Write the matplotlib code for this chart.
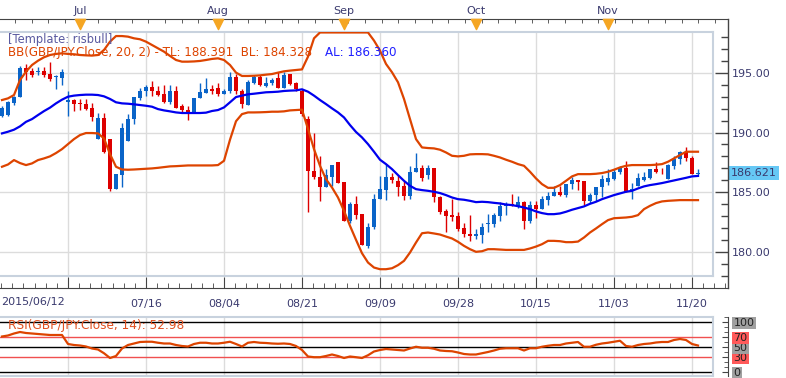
import matplotlib
matplotlib.use("Agg")
import matplotlib.pyplot as plt
import matplotlib.ticker as ticker
from matplotlib.lines import Line2D
import numpy as np
import pandas as pd

# trading days shown on the chart
dates = pd.bdate_range("2015-06-12", "2015-11-23")

opens = [191.4, 191.5, 192.45, 193.0, 195.4, 195.2, 195.1, 195.2, 194.95, 194.65,
         194.6, 192.6, 192.75, 192.5, 192.4, 192.05, 189.45, 191.2, 189.45, 185.3,
         186.45, 189.3, 191.1, 192.9, 193.45, 193.8, 193.5, 193.2, 192.6, 193.5,
         192.2, 191.9, 191.65, 192.9, 193.3, 193.65, 193.7, 193.2, 193.5, 194.7,
         193.5, 192.3, 194.2, 194.7, 193.9, 194.15, 194.55, 193.7, 194.9, 194.15,
         193.5, 191.1, 186.8, 186.3, 185.4, 186.3, 187.55, 185.85, 182.6, 184.0,
         183.15, 180.5, 182.05, 184.4, 185.2, 186.3, 185.95, 185.5, 184.7, 186.7,
         187.0, 186.4, 187.0, 184.55, 183.45, 183.05, 183.0, 181.95, 181.45, 181.35,
         181.4, 182.35, 182.35, 183.0, 183.8, 184.0, 183.85, 184.15, 182.6, 183.9,
         183.6, 184.3, 184.65, 185.05, 184.75, 185.7, 186.0, 185.9, 184.25, 184.75,
         185.4, 185.85, 186.1, 186.65, 187.0, 185.1, 185.5, 186.05, 186.15, 186.95,
         186.8, 186.1, 187.2, 187.75, 188.35, 187.9, 186.5]
highs = [192.2, 192.65, 193.05, 195.55, 195.75, 195.4, 195.5, 195.5, 195.9, 194.8,
         195.3, 193.5, 192.8, 192.8, 192.8, 192.5, 191.6, 191.6, 189.45, 186.5,
         190.8, 191.55, 192.95, 193.7, 193.95, 194.35, 193.9, 193.95, 193.95, 193.9,
         192.4, 192.2, 192.9, 194.15, 194.55, 194.0, 194.15, 193.65, 195.1, 194.9,
         193.65, 194.45, 194.8, 194.8, 194.7, 194.55, 195.05, 195.05, 194.9, 194.25,
         193.65, 191.4, 189.95, 188.05, 186.9, 187.25, 187.55, 185.85, 184.2, 184.7,
         183.15, 182.4, 184.85, 186.35, 187.35, 186.6, 186.45, 185.95, 187.2, 188.3,
         187.25, 187.25, 187.0, 184.65, 183.6, 184.4, 183.3, 182.45, 183.05, 181.9,
         182.45, 183.15, 183.25, 184.15, 184.2, 184.85, 184.65, 184.25, 184.25, 184.25,
         184.7, 185.05, 185.55, 185.5, 185.7, 186.25, 186.0, 185.9, 184.95, 185.45,
         186.45, 186.9, 186.9, 187.2, 187.65, 185.75, 186.6, 186.7, 186.95, 187.5,
         187.0, 187.35, 188.0, 188.45, 188.75, 188.05, 186.9]
lows = [191.3, 191.4, 192.35, 193.0, 194.45, 194.65, 194.8, 194.65, 194.3, 193.65,
        193.95, 191.4, 191.85, 191.9, 191.9, 191.0, 189.45, 188.3, 185.1, 185.25,
        185.4, 189.3, 190.7, 192.7, 193.1, 193.05, 193.1, 192.5, 192.4, 192.1,
        191.7, 191.05, 191.6, 192.9, 193.3, 193.25, 193.1, 193.2, 193.3, 193.2,
        192.05, 192.3, 194.05, 193.9, 193.8, 193.95, 193.7, 193.7, 194.0, 193.45,
        191.4, 183.3, 186.1, 184.25, 185.4, 185.55, 185.8, 182.6, 182.45, 182.75,
        180.55, 180.35, 181.9, 184.4, 184.35, 185.75, 184.7, 184.3, 184.4, 186.7,
        185.95, 186.1, 184.15, 183.15, 181.65, 182.6, 181.75, 181.25, 180.9, 181.1,
        180.7, 181.65, 182.05, 182.6, 183.05, 183.85, 183.65, 181.9, 182.45, 182.85,
        183.55, 183.9, 184.65, 184.7, 184.55, 185.3, 185.2, 183.95, 184.1, 184.25,
        184.55, 185.6, 186.05, 186.5, 185.05, 184.4, 185.5, 185.95, 186.1, 186.6,
        186.5, 186.1, 186.95, 187.35, 187.65, 186.5, 186.45]
closes = [192.1, 192.6, 193.0, 195.4, 195.1, 194.8, 195.2, 194.85, 194.5, 194.7,
          195.1, 192.75, 192.4, 192.4, 192.0, 191.3, 191.2, 188.35, 185.3, 186.5,
          190.4, 191.1, 192.95, 193.5, 193.8, 193.5, 193.15, 192.6, 193.5, 192.1,
          191.9, 191.7, 192.9, 193.4, 193.65, 193.45, 193.25, 193.5, 194.7, 193.5,
          192.4, 194.25, 194.7, 193.95, 194.2, 194.45, 193.7, 194.85, 194.1, 193.65,
          191.55, 186.8, 186.25, 185.4, 186.45, 187.25, 185.8, 182.6, 184.0, 183.05,
          180.55, 182.1, 184.45, 185.25, 186.3, 186.05, 185.4, 184.7, 186.7, 187.0,
          186.15, 187.0, 184.55, 183.3, 183.0, 182.9, 181.9, 181.45, 181.3, 181.45,
          182.05, 182.45, 183.05, 183.8, 184.0, 183.85, 184.15, 182.6, 183.9, 183.6,
          184.4, 184.7, 185.05, 184.75, 185.7, 186.0, 185.85, 184.25, 184.75, 185.45,
          186.1, 186.15, 186.7, 187.0, 185.05, 185.3, 186.15, 186.25, 186.95, 186.7,
          186.75, 187.25, 187.8, 188.35, 187.85, 186.5, 186.621]

bb_top = [192.73, 192.87, 193.15, 194.41, 195.11, 195.67, 196.03, 196.32, 196.51, 196.6,
          196.65, 196.6, 196.57, 196.51, 196.48, 196.46, 196.51, 196.93, 197.63, 198.1,
          198.1, 198.05, 197.91, 197.83, 197.63, 197.35, 197.07, 196.79, 196.43, 196.09,
          195.95, 195.95, 195.97, 196.01, 196.09, 196.18, 196.23, 196.09, 195.67, 195.03,
          194.75, 194.75, 194.77, 194.8, 194.86, 194.91, 195.03, 195.14, 195.2, 195.25,
          195.3, 196.37, 197.91, 198.4, 198.4, 198.4, 198.4, 198.4, 198.4, 198.4,
          198.4, 198.4, 197.72, 196.88, 195.76, 195.06, 194.22, 192.82, 191.13, 189.45,
          188.75, 188.7, 188.67, 188.56, 188.33, 188.05, 188.0, 188.05, 188.17, 188.19,
          188.19, 188.17, 188.05, 187.91, 187.72, 187.55, 187.35, 187.21, 186.71, 186.15,
          185.67, 185.36, 185.36, 185.59, 185.95, 186.32, 186.51, 186.51, 186.51, 186.54,
          186.6, 186.71, 186.88, 187.07, 187.21, 187.27, 187.27, 187.27, 187.27, 187.3,
          187.35, 187.55, 187.83, 188.11, 188.39, 188.391, 188.391]
bb_mid = [189.93, 190.07, 190.24, 190.52, 190.9, 191.13, 191.47, 191.8, 192.09, 192.45,
          192.76, 193.01, 193.1, 193.15, 193.18, 193.18, 193.15, 193.04, 192.82, 192.54,
          192.45, 192.42, 192.37, 192.31, 192.25, 192.17, 191.97, 191.86, 191.78, 191.69,
          191.64, 191.64, 191.64, 191.64, 191.67, 191.81, 191.89, 192.11, 192.54, 192.98,
          193.1, 193.21, 193.26, 193.32, 193.38, 193.4, 193.43, 193.49, 193.52, 193.54,
          193.63, 193.43, 193.1, 192.73, 192.39, 192.03, 191.69, 191.27, 190.63, 190.05,
          189.59, 189.03, 188.39, 187.72, 187.35, 186.93, 186.43, 185.95, 185.53, 185.25,
          185.17, 185.11, 185.03, 184.92, 184.75, 184.55, 184.41, 184.36, 184.27, 184.16,
          184.19, 184.16, 184.1, 184.05, 183.96, 183.91, 183.82, 183.71, 183.57, 183.38,
          183.24, 183.15, 183.15, 183.21, 183.35, 183.52, 183.66, 183.8, 184.02, 184.19,
          184.41, 184.58, 184.75, 184.89, 185.03, 185.11, 185.31, 185.48, 185.59, 185.67,
          185.76, 185.87, 185.98, 186.09, 186.2, 186.32, 186.36]
bb_bot = [187.13, 187.32, 187.69, 187.44, 187.27, 187.41, 187.69, 187.83, 188.0, 188.28,
          188.61, 189.03, 189.45, 189.79, 189.96, 189.96, 189.93, 189.51, 188.19, 187.13,
          186.9, 186.88, 186.9, 186.93, 186.96, 186.99, 187.04, 187.1, 187.16, 187.18,
          187.21, 187.24, 187.24, 187.24, 187.24, 187.24, 187.27, 187.63, 189.4, 190.95,
          191.55, 191.69, 191.69, 191.7, 191.72, 191.75, 191.75, 191.78, 191.86, 191.89,
          191.92, 190.3, 188.61, 187.21, 186.09, 185.39, 184.55, 183.43, 182.17, 181.0,
          179.87, 179.09, 178.67, 178.53, 178.53, 178.61, 178.87, 179.23, 179.93, 180.77,
          181.55, 181.61, 181.53, 181.44, 181.27, 181.11, 180.83, 180.49, 180.21, 179.99,
          180.04, 180.21, 180.21, 180.18, 180.15, 180.15, 180.15, 180.15, 180.27, 180.43,
          180.63, 180.91, 180.91, 180.88, 180.8, 180.8, 180.85, 181.19, 181.61, 181.95,
          182.31, 182.65, 182.81, 182.84, 182.87, 182.93, 183.07, 183.57, 183.85, 184.08,
          184.22, 184.27, 184.3, 184.33, 184.33, 184.328, 184.328]

rsi = [71, 73, 77, 80, 78, 77, 76, 75, 74, 74,
       74, 56, 54, 53, 51, 47, 45, 37.5, 28, 32,
       47, 54, 57, 60, 60.5, 60.5, 58.5, 57, 57, 54,
       52, 51, 56, 58.5, 58.5, 57, 57, 58.5, 60.5, 56,
       51, 58.5, 60, 58.5, 58, 57, 56.5, 57, 56, 52,
       44, 31, 29.6, 29.6, 32, 35, 32, 28, 31, 29.6,
       28, 33.5, 41, 44, 46, 45, 44, 43, 47, 50.5,
       48.5, 48.5, 46.5, 43, 42, 41.5, 39, 36, 35, 35,
       37.5, 40, 43, 46.5, 47.5, 47.5, 47.5, 43, 47.5, 47.5,
       50.5, 52.5, 54, 54, 57, 58.5, 60, 50.5, 50.5, 54.5,
       57, 58.5, 60.5, 62.5, 52, 50.5, 54, 56, 57, 59,
       60, 60, 64, 66, 64, 56, 52.98]

rsi_levels = [0, 30, 50, 70, 100]
price_ticks = [180, 185, 190, 195]

UP = "#0a64c8"
DOWN = "#dd0000"
BAND = "#dd4400"
MID = "#0000ee"
GRID = "#dcdcdc"
FRAME = "#c8d2de"
TXT = "#3a3a6e"

W, H = 786, 378

def box(x0, y0, x1, y1):
    # pixel box -> figure fraction rect
    return [x0 / W, 1 - y1 / H, (x1 - x0) / W, (y1 - y0) / H]

fig = plt.figure(figsize=(W / 100, H / 100), dpi=100)
plt.rcParams['font.family'] = ['DejaVu Sans']

n = len(dates)
idx = np.arange(n)
o = np.array(opens); c = np.array(closes)
hi = np.array(highs); lo = np.array(lows)
grid_idx = np.arange(11, n, 13)

# ---- main price panel ----
ax = fig.add_axes(box(0, 32, 713, 276))
ax.set_xlim(-1 / 3, 118.5)
ax.set_ylim(177.96, 198.44)
for g in grid_idx:
    ax.axvline(g, color=GRID, lw=1.0, zorder=0)
for p in price_ticks:
    ax.axhline(p, color=GRID, lw=1.0, zorder=0)

up = c >= o
col = np.where(up, UP, DOWN)
ax.vlines(idx, lo, hi, colors=col, lw=1.0, zorder=2)
body_h = np.maximum(np.abs(c - o), 0.06)
ax.bar(idx, body_h, bottom=np.minimum(o, c), width=0.68, color=col, zorder=3)

ax.plot(idx, bb_top, color=BAND, lw=1.6, zorder=4)
ax.plot(idx, bb_bot, color=BAND, lw=1.6, zorder=4)
ax.plot(idx, bb_mid, color=MID, lw=1.6, zorder=4)

for s in ["top", "right", "bottom"]:
    ax.spines[s].set_color(FRAME)
    ax.spines[s].set_linewidth(1.5)
ax.spines["left"].set_visible(False)

ax.text(0.011, 0.971, "[Template: risbull]", transform=ax.transAxes,
        fontsize=8.3, color="#5a5aa0", va="center", ha="left", zorder=6)
ax.text(0.011, 0.918, "BB(GBP/JPY.Close, 20, 2) - TL: %.3f  BL: %.3f" % (bb_top[-1], bb_bot[-1]),
        transform=ax.transAxes, fontsize=8.6, color=BAND, va="center", ha="left", zorder=6)
ax.text(325 / 713, 0.918, "AL: %.3f" % bb_mid[-1], transform=ax.transAxes,
        fontsize=8.6, color="#2020ff", va="center", ha="left", zorder=6)

# ---- right price axis ----
ax_r = fig.add_axes(box(713, 32, 728, 276), sharey=ax)
ax_r.set_xlim(0, 1)
for s in ["top", "left", "bottom", "right"]:
    ax_r.spines[s].set_visible(False)
ax_r.patch.set_alpha(0)
ax_r.set_xticks([])
ax_r.yaxis.tick_right()
ax_r.set_yticks(price_ticks)
ax_r.set_yticklabels(["%.2f" % p for p in price_ticks])
ax_r.yaxis.set_minor_locator(ticker.MultipleLocator(1))
ax_r.tick_params(axis="y", which="major", direction="in", length=9.5, width=1,
                 color="#444444", labelsize=8, labelcolor=TXT, pad=3)
ax_r.tick_params(axis="y", which="minor", direction="in", length=5, width=1, color="#444444")
ax_r.text(1.2, closes[-1], "%.3f" % closes[-1], transform=ax_r.get_yaxis_transform(),
          fontsize=8, color=TXT, va="center", ha="left",
          bbox=dict(boxstyle="square,pad=0.2", fc="#66c8f5", ec="none"))

# main panel keeps no ticks of its own
ax.set_xticks([])
ax.tick_params(axis="y", which="both", left=False, right=False, labelleft=False, labelright=False)

# ---- month strip on top ----
ax_top = fig.add_axes(box(0, 19, 728, 23))
ax_top.set_xlim(-1 / 3, 121)
ax_top.set_ylim(0, 1)
for s in ["left", "right", "bottom"]:
    ax_top.spines[s].set_visible(False)
ax_top.spines["top"].set_color("#444444")
ax_top.patch.set_alpha(0)
ax_top.set_yticks([])
month_idx = [i for i in range(1, n) if dates[i].month != dates[i - 1].month]
ax_top.xaxis.tick_top()
ax_top.set_xticks(month_idx)
ax_top.set_xticklabels([dates[i].strftime("%b") for i in month_idx])
ax_top.set_xticks(np.arange(2.17, 121, 25 / 9), minor=True)
ax_top.tick_params(axis="x", which="major", length=0, labelsize=8, labelcolor=TXT, pad=2.5)
ax_top.tick_params(axis="x", which="minor", direction="in", length=3, color="#444444")
ax_top.scatter(month_idx, [-0.3] * len(month_idx), marker="v", s=55,
               color="#f5a623", clip_on=False, zorder=5)

# ---- date strip at bottom ----
ax_bot = fig.add_axes(box(0, 280, 728, 288))
ax_bot.set_xlim(-1 / 3, 121)
for s in ["left", "right", "top"]:
    ax_bot.spines[s].set_visible(False)
ax_bot.spines["bottom"].set_color("#444444")
ax_bot.patch.set_alpha(0)
ax_bot.set_yticks([])
ax_bot.set_xticks(grid_idx)
ax_bot.set_xticklabels(["" if i == 11 else dates[i].strftime("%m/%d") for i in grid_idx])
ax_bot.set_xticks(np.arange(11 - 13 / 7 * 6, 121, 13 / 7), minor=True)
ax_bot.tick_params(axis="x", which="major", direction="in", length=8, color="#444444",
                   labelsize=8, labelcolor=TXT, pad=8)
ax_bot.tick_params(axis="x", which="minor", direction="in", length=3.5, color="#444444")
ax_bot.text(0.002, -1.1, dates[0].strftime("%Y/%m/%d"), transform=ax_bot.transAxes,
            fontsize=8, color=TXT, va="top", ha="left")

# ---- RSI panel ----
ax_rsi = fig.add_axes(box(0, 317, 713, 376))
ax_rsi.set_xlim(-1 / 3, 118.5)
ax_rsi.set_ylim(-8, 110)
for g in grid_idx:
    ax_rsi.axvline(g, color=GRID, lw=1.0, zorder=0)
for lv in rsi_levels:
    ax_rsi.axhline(lv, color="black" if lv in (0, 50, 100) else "#f05050", lw=1.0, zorder=1)
ax_rsi.plot(idx, rsi, color=BAND, lw=1.6, zorder=3)
for s in ["top", "right", "bottom"]:
    ax_rsi.spines[s].set_color(FRAME)
    ax_rsi.spines[s].set_linewidth(1.5)
ax_rsi.spines["left"].set_visible(False)
ax_rsi.text(0.011, 0.864, "RSI(GBP/JPY.Close, 14): %.2f" % rsi[-1], transform=ax_rsi.transAxes,
            fontsize=8.7, color="#e05020", va="center", ha="left", zorder=5)

ax_rr = fig.add_axes(box(713, 317, 728, 376), sharey=ax_rsi)
ax_rr.set_xlim(0, 1)
for s in ["top", "left", "bottom"]:
    ax_rr.spines[s].set_visible(False)
ax_rr.spines["right"].set_color("#444444")
ax_rr.patch.set_alpha(0)
ax_rr.set_xticks([])
ax_rr.yaxis.tick_right()
ax_rr.set_yticks(rsi_levels)
ax_rr.set_yticklabels([str(v) for v in rsi_levels])
ax_rr.yaxis.set_minor_locator(ticker.MultipleLocator(10))
ax_rr.tick_params(axis="y", which="major", direction="in", length=4, color="#444444",
                  labelsize=8, labelcolor="#222222", pad=4)
ax_rr.tick_params(axis="y", which="minor", direction="in", length=3, color="#444444")
for lab, lv in zip(ax_rr.get_yticklabels(), rsi_levels):
    lab.set_bbox(dict(boxstyle="square,pad=0.1",
                      fc="#a0a0a0" if lv in (0, 50, 100) else "#ff5a5a", ec="none"))

ax_rsi.set_xticks([])
ax_rsi.tick_params(axis="y", which="both", left=False, right=False, labelleft=False, labelright=False)

# right axis line of the price panel, running through the top and bottom strips
fig.add_artist(Line2D([728 / W, 728 / W], [1 - 19 / H, 1 - 288 / H], color="#444444", lw=1.0))

fig.savefig("out.png", dpi=100)
